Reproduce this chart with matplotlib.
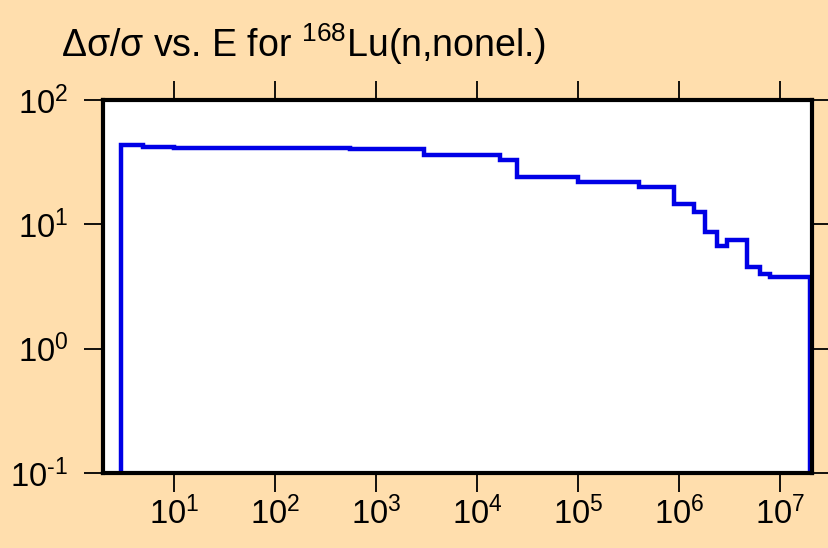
import math

import matplotlib
matplotlib.use("Agg")
import matplotlib.pyplot as plt
from matplotlib.ticker import FixedLocator, FuncFormatter, NullLocator

BACKGROUND = "#ffdead"
LINE_COLOR = "#0000e6"

# bin edges (eV) and relative uncertainty (%)
energy_edges = [3, 5, 10, 30, 100, 550, 3.0e3, 1.7e4, 2.5e4, 1.0e5, 4.0e5, 9.0e5,
                1.4e6, 1.8e6, 2.4e6, 3.0e6, 4.7e6, 6.3e6, 8.0e6, 2.0e7]
rel_uncertainty = [43.4, 41.6, 41.3, 41.1, 40.9, 40.0, 35.8, 32.9, 24.2, 22.0,
                   19.8, 14.5, 12.5, 8.7, 6.7, 7.5, 4.56, 4.0, 3.74]

x_ticks = [1e1, 1e2, 1e3, 1e4, 1e5, 1e6, 1e7]
y_ticks = [1e-1, 1e0, 1e1, 1e2]

plt.rcParams["font.family"] = ["Liberation Sans", "DejaVu Sans"]
plt.rcParams["mathtext.fontset"] = "custom"
plt.rcParams["mathtext.rm"] = "Liberation Sans"
plt.rcParams["mathtext.it"] = "Liberation Sans:italic"


def pow_label(value, _pos):
    exp = int(round(math.log10(value)))
    exp_text = str(exp).replace("-", "\N{HYPHEN}")
    return r"$\mathregular{10^{%s}}$" % exp_text


fig = plt.figure(figsize=(8.29, 5.48), dpi=100, facecolor=BACKGROUND)
ax = fig.add_axes([0.1243, 0.1369, 0.8552, 0.6806])
ax.set_facecolor("white")

ax.stairs(rel_uncertainty, energy_edges, baseline=1e-1, color=LINE_COLOR, linewidth=3.2)

ax.set_xscale("log")
ax.set_yscale("log")
ax.set_xlim(2.0, 2.07e7)
ax.set_ylim(1e-1, 1e2)

ax.xaxis.set_major_locator(FixedLocator(x_ticks))
ax.yaxis.set_major_locator(FixedLocator(y_ticks))
ax.xaxis.set_minor_locator(NullLocator())
ax.yaxis.set_minor_locator(NullLocator())
ax.xaxis.set_major_formatter(FuncFormatter(pow_label))
ax.yaxis.set_major_formatter(FuncFormatter(pow_label))

ax.tick_params(which="major", direction="out", length=14, width=1.3, color="black",
               labelsize=23.5, top=True, right=True, labeltop=False, labelright=False)
ax.tick_params(axis="x", pad=3)
ax.tick_params(axis="y", pad=11)

for spine in ax.spines.values():
    spine.set_linewidth(3.0)
    spine.set_color("black")

fig.text(0.074, 0.896, "Δσ/σ vs. E for $\\mathregular{^{168}}$Lu(n,nonel.)",
         fontsize=27, ha="left", va="baseline")

fig.savefig("out.png", dpi=100, facecolor=BACKGROUND)
